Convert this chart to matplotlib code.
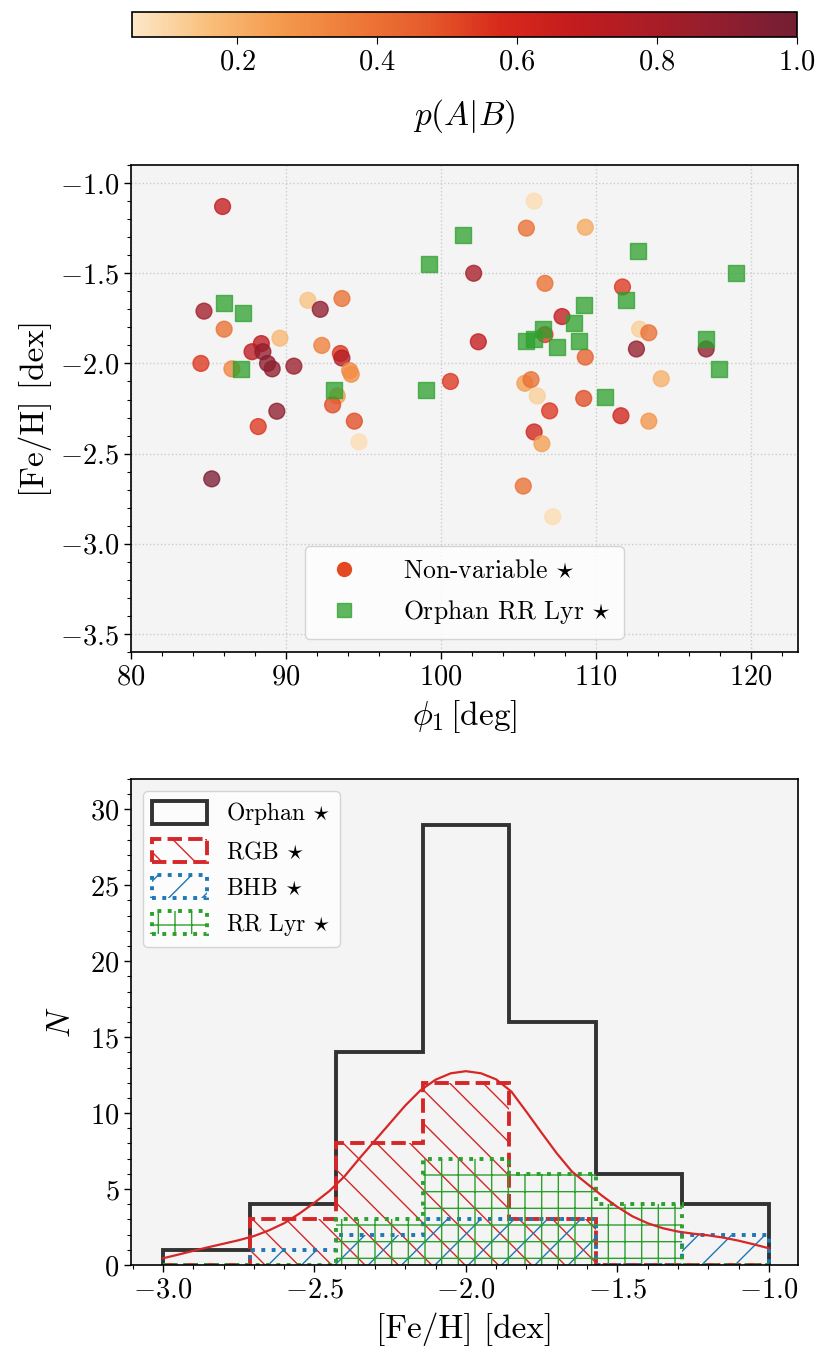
import numpy as np
import matplotlib
matplotlib.use("Agg")
import matplotlib.pyplot as plt
from matplotlib.colors import Normalize, LinearSegmentedColormap
from matplotlib.cm import ScalarMappable
from matplotlib.ticker import MultipleLocator
from matplotlib.lines import Line2D

plt.rcParams.update({
    "font.family": "serif",
    "font.serif": ["cmr10"],
    "mathtext.fontset": "cm",
    "axes.formatter.use_mathtext": True,
    "axes.unicode_minus": True,
    "hatch.linewidth": 1.0,
})

# --- scatter: non-variable stars (phi1, [Fe/H], p(A|B)) ---
nv_phi1 = [85.9, 84.7, 86.0, 84.5, 86.5, 87.8, 88.4, 88.5, 88.8, 89.1,
           89.6, 90.5, 89.4, 88.2, 85.2, 91.4, 92.2, 93.6, 92.3, 93.5,
           93.6, 94.1, 94.2, 93.3, 93.0, 94.4, 94.7, 100.6, 102.1,
           106.0, 105.5, 109.3, 106.7, 111.7, 107.8, 106.7, 102.4, 112.8, 113.4,
           117.1, 112.6, 109.3, 114.2, 105.4, 105.8, 106.2, 109.2, 107.0, 111.6,
           113.4, 106.0, 106.5, 105.3, 107.2]
nv_feh = [-1.13, -1.71, -1.81, -2.00, -2.03, -1.935, -1.89, -1.935, -2.00, -2.03,
          -1.86, -2.015, -2.265, -2.35, -2.64, -1.65, -1.70, -1.64, -1.90, -1.945,
          -1.97, -2.04, -2.06, -2.18, -2.23, -2.32, -2.435, -2.10, -1.50,
          -1.10, -1.25, -1.245, -1.556, -1.576, -1.74, -1.84, -1.88, -1.81, -1.83,
          -1.92, -1.92, -1.965, -2.085, -2.11, -2.09, -2.18, -2.194, -2.263, -2.29,
          -2.32, -2.38, -2.445, -2.68, -2.85]
nv_prob = [0.68, 0.82, 0.40, 0.55, 0.33, 0.70, 0.70, 0.88, 0.92, 0.90,
           0.18, 0.85, 0.90, 0.55, 0.97, 0.15, 0.90, 0.40, 0.35, 0.55,
           0.75, 0.32, 0.30, 0.25, 0.50, 0.50, 0.08, 0.55, 0.80,
           0.08, 0.40, 0.22, 0.40, 0.55, 0.68, 0.55, 0.68, 0.12, 0.40,
           0.90, 0.88, 0.45, 0.20, 0.25, 0.40, 0.12, 0.50, 0.55, 0.62,
           0.28, 0.62, 0.25, 0.40, 0.08]

# --- scatter: Orphan RR Lyrae ---
rr_phi1 = [86.0, 87.2, 87.1, 93.1, 99.0, 99.2, 101.4, 112.7, 119.0, 111.9,
           109.2, 108.55, 106.6, 105.5, 106.0, 107.5, 108.9, 117.1, 117.9, 110.6]
rr_feh = [-1.667, -1.72, -2.03, -2.15, -2.15, -1.448, -1.29, -1.378, -1.498, -1.646,
          -1.678, -1.778, -1.81, -1.878, -1.867, -1.907, -1.876, -1.867, -2.03, -2.187]

# --- histogram counts per [Fe/H] bin ---
feh_edges = [-3.0, -2.714, -2.429, -2.143, -1.857, -1.571, -1.286, -1.0]
n_orphan = [1, 4, 14, 29, 16, 6, 4]
n_rgb = [0, 3, 8, 12, 3, 0, 0]
n_bhb = [0, 1, 2, 3, 3, 0, 2]
n_rrl = [0, 0, 3, 7, 6, 4, 0]

# --- RGB density curve ---
curve_feh = [-3.0, -2.95, -2.9, -2.85, -2.8, -2.75, -2.7, -2.65, -2.6, -2.55,
             -2.5, -2.45, -2.4, -2.35, -2.3, -2.25, -2.2, -2.15, -2.1, -2.05,
             -2.0, -1.95, -1.9, -1.85, -1.8, -1.75, -1.7, -1.65, -1.6, -1.55,
             -1.5, -1.45, -1.4, -1.35, -1.3, -1.25, -1.2, -1.15, -1.1, -1.05, -1.0]
curve_n = [0.44, 0.68, 0.93, 1.17, 1.40, 1.63, 1.90, 2.28, 2.75, 3.38,
           4.10, 4.88, 5.85, 7.05, 8.20, 9.35, 10.50, 11.50, 12.20, 12.62,
           12.76, 12.62, 12.22, 11.42, 10.08, 8.70, 7.35, 6.15, 5.35, 4.55,
           3.82, 3.20, 2.75, 2.42, 2.20, 2.06, 1.95, 1.80, 1.60, 1.36, 1.10]

# colour ramp of the p(A|B) bar
ramp = ["#fde8c9", "#f9c07c", "#f49a4d", "#ee7a38", "#e55a2a",
        "#d8291b", "#c31c1e", "#aa1d27", "#911e2e", "#741e34"]
cmap = LinearSegmentedColormap.from_list("pab", ramp)

BG = "#f4f4f4"
TICK_FS = 20.5
LABEL_FS = 24

fig = plt.figure(figsize=(8.3, 13.64), dpi=100)
cax = fig.add_axes([0.159, 0.9729, 0.801, 0.0183])
ax1 = fig.add_axes([0.158, 0.522, 0.803, 0.357])
ax2 = fig.add_axes([0.158, 0.0726, 0.803, 0.3563])

# scatter panel
norm = Normalize(vmin=0.05, vmax=1.0)
ax1.set_facecolor(BG)
ax1.grid(ls=":", color="#cccccc", lw=1.0, zorder=0)
ax1.set_axisbelow(True)
ax1.scatter(nv_phi1, nv_feh, c=nv_prob, cmap=cmap, norm=norm, s=130,
            alpha=0.78, zorder=3)
ax1.scatter(rr_phi1, rr_feh, marker="s", color="#2ca02c", s=130, alpha=0.75, zorder=3)
ax1.set_xlim(80, 123)
ax1.set_ylim(-3.6, -0.9)
ax1.xaxis.set_major_locator(MultipleLocator(10))
ax1.xaxis.set_minor_locator(MultipleLocator(2))
ax1.yaxis.set_major_locator(MultipleLocator(0.5))
ax1.yaxis.set_minor_locator(MultipleLocator(0.1))
ax1.set_xlabel(r"$\phi_1\,$[deg]", fontsize=LABEL_FS, labelpad=6)
ax1.set_ylabel("[Fe/H] [dex]", fontsize=LABEL_FS, labelpad=6)
handles = [Line2D([], [], ls="", marker="o", ms=10, color="#e34a23"),
           Line2D([], [], ls="", marker="s", ms=10, color="#2ca02c", alpha=0.75)]
ax1.legend(handles, [r"Non-variable $\star$", r"Orphan RR Lyr $\star$"],
           loc="lower center", fontsize=18.5, handletextpad=1.3, borderpad=0.5,
           labelspacing=0.6)

cb = fig.colorbar(ScalarMappable(norm=norm, cmap=cmap), cax=cax, orientation="horizontal")
cb.set_ticks([0.2, 0.4, 0.6, 0.8, 1.0])
cb.ax.tick_params(labelsize=TICK_FS, length=5)
cb.set_label(r"$p(A|B)$", fontsize=LABEL_FS, labelpad=16)
cb.outline.set_linewidth(1.2)

# histogram panel
ax2.set_facecolor(BG)
centers = [0.5 * (a + b) for a, b in zip(feh_edges[:-1], feh_edges[1:])]
ax2.hist(centers, bins=feh_edges, weights=n_orphan, histtype="step", color="#333333",
         lw=2.8, label=r"Orphan $\star$")
ax2.hist(centers, bins=feh_edges, weights=n_rgb, histtype="step", color="#d62728",
         lw=2.8, ls="--", hatch="\\", label=r"RGB $\star$")
ax2.hist(centers, bins=feh_edges, weights=n_bhb, histtype="step", color="#1f77b4",
         lw=2.8, ls=":", hatch="/", label=r"BHB $\star$")
ax2.hist(centers, bins=feh_edges, weights=n_rrl, histtype="step", color="#2ca02c",
         lw=2.8, ls=":", hatch="+", label=r"RR Lyr $\star$")
ax2.plot(curve_feh, curve_n, color="#d62728", lw=1.6)
ax2.set_xlim(-3.105, -0.905)
ax2.set_ylim(0, 32)
ax2.xaxis.set_major_locator(MultipleLocator(0.5))
ax2.xaxis.set_minor_locator(MultipleLocator(0.1))
ax2.yaxis.set_major_locator(MultipleLocator(5))
ax2.yaxis.set_minor_locator(MultipleLocator(1))
ax2.set_xlabel("[Fe/H] [dex]", fontsize=LABEL_FS, labelpad=7)
ax2.set_ylabel(r"$N$", fontsize=LABEL_FS, labelpad=10)
ax2.legend(loc="upper left", fontsize=17, handlelength=2.3, handleheight=1.1)

for ax in (ax1, ax2):
    ax.tick_params(which="both", labelsize=TICK_FS, direction="out")
    ax.tick_params(which="major", length=5, width=1.0)
    ax.tick_params(which="minor", length=3, width=0.8)
    for sp in ax.spines.values():
        sp.set_linewidth(1.2)

fig.savefig("out.png", dpi=100)
